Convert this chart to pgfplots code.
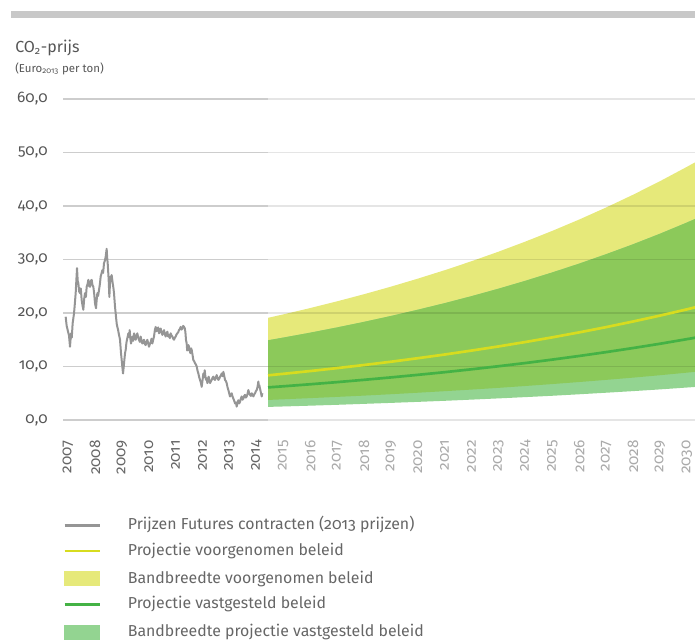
\documentclass[border=0pt]{standalone}
\usepackage{fontspec}
\setmainfont{Fira Sans}[Numbers=OldStyle]
\usepackage{pgfplots}
\pgfplotsset{compat=1.18}
\usepackage{pgfplotstable}
\definecolor{ctxt}{HTML}{555555}
\definecolor{xtd}{HTML}{666666}
\definecolor{xtl}{HTML}{AAAAAA}
\definecolor{legtxt}{HTML}{666666}
\definecolor{cprice}{HTML}{959595}
\definecolor{cyel}{HTML}{E6E97A}
\definecolor{cgrn}{HTML}{93D491}
\definecolor{cover}{HTML}{8CC95A}
\definecolor{cyline}{HTML}{D7DC1F}
\definecolor{cgline}{HTML}{44B245}
\definecolor{cbar}{HTML}{C8C8C8}
\definecolor{gridL}{HTML}{CDCDCD}

\pgfplotstableread{
t        yline  gline
2014.435 8.35   6.10
2015     8.63   6.30
2016     9.15   6.68
2017     9.70   7.08
2018     10.28  7.51
2019     10.89  7.96
2020     11.55  8.44
2021     12.24  8.94
2022     12.98  9.48
2023     13.75  10.05
2024     14.58  10.65
2025     15.45  11.29
2026     16.38  11.97
2027     17.36  12.69
2028     18.41  13.45
2029     19.51  14.25
2030     20.68  15.11
2030.31  21.06  15.38
}\proj

\pgfplotstableread{
t        p
2006.913 19.3
2006.950 17.6
2006.988 16.8
2007.037 15.8
2007.074 13.7
2007.112 16.2
2007.140 15.4
2007.173 18.1
2007.223 19.9
2007.250 21.5
2007.285 23.7
2007.335 28.4
2007.360 26.0
2007.384 25.6
2007.415 24.0
2007.446 23.7
2007.475 24.6
2007.508 22.4
2007.540 21.4
2007.570 20.6
2007.600 22.6
2007.632 23.7
2007.665 23.0
2007.694 24.9
2007.725 25.4
2007.756 26.2
2007.790 25.0
2007.818 24.9
2007.850 26.0
2007.880 26.2
2007.910 25.2
2007.942 24.9
2007.975 23.5
2008.004 21.8
2008.041 20.9
2008.065 22.4
2008.090 23.7
2008.120 23.2
2008.152 24.3
2008.185 25.4
2008.214 26.8
2008.245 27.4
2008.276 28.0
2008.305 27.5
2008.338 29.3
2008.370 29.8
2008.400 30.5
2008.437 32.0
2008.455 30.4
2008.475 29.3
2008.512 26.2
2008.537 23.0
2008.555 25.0
2008.574 26.8
2008.600 26.0
2008.623 27.1
2008.660 25.6
2008.690 24.6
2008.710 23.7
2008.747 21.2
2008.784 19.3
2008.810 18.0
2008.834 17.4
2008.860 16.9
2008.884 16.2
2008.910 15.6
2008.933 15.0
2008.970 12.5
2009.007 10.6
2009.045 8.7
2009.070 9.9
2009.094 11.2
2009.120 12.5
2009.144 13.1
2009.170 14.4
2009.193 15.0
2009.218 15.6
2009.243 16.2
2009.270 15.5
2009.292 16.8
2009.318 15.2
2009.342 14.3
2009.368 15.0
2009.392 15.6
2009.420 14.8
2009.454 16.2
2009.485 15.4
2009.516 15.0
2009.545 15.8
2009.577 16.2
2009.608 15.4
2009.639 15.0
2009.670 14.6
2009.701 15.6
2009.732 14.8
2009.763 14.3
2009.795 14.8
2009.825 15.0
2009.855 14.2
2009.887 14.0
2009.918 14.6
2009.949 15.0
2009.980 14.3
2010.011 13.7
2010.042 14.2
2010.073 14.6
2010.105 15.2
2010.135 14.3
2010.165 15.0
2010.197 15.6
2010.228 16.8
2010.259 17.4
2010.290 16.6
2010.321 16.8
2010.352 17.3
2010.383 16.2
2010.414 16.6
2010.445 17.1
2010.476 16.4
2010.507 15.9
2010.538 16.4
2010.569 16.8
2010.600 16.0
2010.631 15.6
2010.662 16.2
2010.693 16.5
2010.724 15.6
2010.755 15.9
2010.786 15.3
2010.817 16.2
2010.848 15.8
2010.879 15.6
2010.910 15.2
2010.941 15.0
2010.972 15.4
2011.002 15.6
2011.033 16.0
2011.064 16.2
2011.095 16.4
2011.126 16.8
2011.157 17.0
2011.188 17.4
2011.220 16.9
2011.250 17.1
2011.281 17.6
2011.312 17.4
2011.337 17.2
2011.362 16.5
2011.385 15.0
2011.411 14.3
2011.430 13.0
2011.449 13.1
2011.475 14.0
2011.498 13.7
2011.522 13.0
2011.548 12.5
2011.575 13.4
2011.597 13.1
2011.628 12.2
2011.659 11.2
2011.690 11.0
2011.721 10.6
2011.752 10.4
2011.783 10.0
2011.815 9.2
2011.845 8.7
2011.876 8.0
2011.907 7.5
2011.938 7.0
2011.969 6.2
2012.000 7.4
2012.031 8.7
2012.056 8.0
2012.081 9.3
2012.105 8.2
2012.130 7.5
2012.155 7.8
2012.180 6.9
2012.205 7.6
2012.229 8.1
2012.255 7.4
2012.279 6.9
2012.310 7.2
2012.341 7.5
2012.372 7.9
2012.403 8.1
2012.434 7.6
2012.465 7.5
2012.496 8.0
2012.527 8.4
2012.558 7.8
2012.589 7.5
2012.620 7.7
2012.651 8.1
2012.682 8.3
2012.713 8.7
2012.744 8.2
2012.775 9.0
2012.805 8.3
2012.836 7.5
2012.867 7.3
2012.898 6.9
2012.930 6.1
2012.960 5.6
2012.991 5.0
2013.022 4.4
2013.053 4.7
2013.084 5.0
2013.115 4.4
2013.146 4.0
2013.177 3.6
2013.208 3.1
2013.240 3.3
2013.270 2.5
2013.300 3.2
2013.332 3.7
2013.363 3.1
2013.394 3.4
2013.425 4.0
2013.456 4.4
2013.487 3.8
2013.518 4.0
2013.549 4.5
2013.580 4.7
2013.611 4.2
2013.642 4.4
2013.673 4.9
2013.704 5.6
2013.735 5.0
2013.766 4.7
2013.797 4.5
2013.828 5.0
2013.859 4.7
2013.890 4.4
2013.921 4.8
2013.952 5.0
2013.983 5.4
2014.014 5.6
2014.045 6.2
2014.076 7.2
2014.095 6.2
2014.113 6.5
2014.130 6.0
2014.150 5.6
2014.175 5.0
2014.200 4.4
2014.224 5.0
}\price

\begin{document}
\begin{tikzpicture}
\path[use as bounding box] (0,0) rectangle (521.25pt,-479.25pt);
\fill[cbar] (8.25pt,-8.25pt) rectangle (521.25pt,-13.5pt);
\node[anchor=base west, inner sep=0pt, text=ctxt, font=\fontsize{12pt}{14pt}\selectfont] at (11.25pt,-39pt) {CO\textsubscript{2}-prijs};
\node[anchor=base west, inner sep=0pt, text=ctxt, font=\fontsize{8.6pt}{9.5pt}\selectfont] at (11.25pt,-54pt) {(Euro\textsubscript{2013} per ton)};
\begin{axis}[
  at={(47.25pt,-315pt)}, anchor=south west,
  scale only axis, width=474.1pt, height=240.75pt,
  xmin=2006.814, xmax=2030.31, ymin=0, ymax=60,
  clip=false,
  axis line style={draw=none},
  major tick length=0pt, tick style={draw=none},
  /pgf/number format/assume math mode=true,
  ytick={0,10,20,30,40,50,60},
  yticklabels={{0,0},{10,0},{20,0},{30,0},{40,0},{50,0},{60,0}},
  yticklabel style={anchor=east, inner sep=0pt, xshift=-11.25pt, text=ctxt, font=\fontsize{11.5pt}{13pt}\selectfont},
  xtick={2007,2008,2009,2010,2011,2012,2013,2014,2015,2016,2017,2018,2019,2020,2021,2022,2023,2024,2025,2026,2027,2028,2029,2030},
  xticklabels={\textcolor{xtd}{2007},\textcolor{xtd}{2008},\textcolor{xtd}{2009},\textcolor{xtd}{2010},\textcolor{xtd}{2011},\textcolor{xtd}{2012},\textcolor{xtd}{2013},\textcolor{xtd}{2014},
   \textcolor{xtl}{2015},\textcolor{xtl}{2016},\textcolor{xtl}{2017},\textcolor{xtl}{2018},\textcolor{xtl}{2019},\textcolor{xtl}{2020},\textcolor{xtl}{2021},\textcolor{xtl}{2022},\textcolor{xtl}{2023},\textcolor{xtl}{2024},\textcolor{xtl}{2025},\textcolor{xtl}{2026},\textcolor{xtl}{2027},\textcolor{xtl}{2028},\textcolor{xtl}{2029},\textcolor{xtl}{2030}},
  xticklabel style={yshift=-15pt, rotate=90, anchor=east, inner sep=0pt, font=\fontsize{11.5pt}{13pt}\selectfont},
  legend style={at={(axis description cs:0,-0.31)}, anchor=north west, draw=none, fill=none, inner sep=0pt,
    row sep=9.3pt, font=\fontsize{11.9pt}{13pt}\selectfont, text=legtxt,
    nodes={inner sep=0pt, anchor=base west, text height=7.5pt, text depth=2.5pt},
    /tikz/every odd column/.append style={column sep=20pt}},
]
% band voorgenomen beleid (lower edge, then upper edge backwards)
\addplot[fill=cyel, draw=none, forget plot] coordinates {
 (2014.435,3.75)(2015,3.87)(2016,4.09)(2017,4.32)(2018,4.56)(2019,4.82)(2020,5.10)(2021,5.39)(2022,5.69)(2023,6.01)(2024,6.36)(2025,6.72)(2026,7.10)(2027,7.50)(2028,7.92)(2029,8.37)(2030,8.85)(2030.31,9.00)
 (2030.31,48.17)(2030,47.31)(2029,44.63)(2028,42.10)(2027,39.72)(2026,37.47)(2025,35.35)(2024,33.35)(2023,31.46)(2022,29.68)(2021,28.00)(2020,26.42)(2019,24.92)(2018,23.51)(2017,22.18)(2016,20.92)(2015,19.74)(2014.435,19.10)
} -- cycle;
% band vastgesteld beleid
\addplot[fill=cgrn, draw=none, forget plot] coordinates {
 (2014.435,2.45)(2015,2.53)(2016,2.68)(2017,2.84)(2018,3.02)(2019,3.20)(2020,3.39)(2021,3.59)(2022,3.81)(2023,4.04)(2024,4.28)(2025,4.53)(2026,4.81)(2027,5.10)(2028,5.40)(2029,5.72)(2030,6.07)(2030.31,6.18)
 (2030.31,37.58)(2030,36.90)(2029,34.81)(2028,32.84)(2027,30.99)(2026,29.23)(2025,27.58)(2024,26.02)(2023,24.54)(2022,23.15)(2021,21.84)(2020,20.61)(2019,19.44)(2018,18.34)(2017,17.30)(2016,16.32)(2015,15.40)(2014.435,14.90)
} -- cycle;
% overlap of both bands
\addplot[fill=cover, draw=none, forget plot] coordinates {
 (2014.435,3.75)(2015,3.87)(2016,4.09)(2017,4.32)(2018,4.56)(2019,4.82)(2020,5.10)(2021,5.39)(2022,5.69)(2023,6.01)(2024,6.36)(2025,6.72)(2026,7.10)(2027,7.50)(2028,7.92)(2029,8.37)(2030,8.85)(2030.31,9.00)
 (2030.31,37.58)(2030,36.90)(2029,34.81)(2028,32.84)(2027,30.99)(2026,29.23)(2025,27.58)(2024,26.02)(2023,24.54)(2022,23.15)(2021,21.84)(2020,20.61)(2019,19.44)(2018,18.34)(2017,17.30)(2016,16.32)(2015,15.40)(2014.435,14.90)
} -- cycle;
% grid lines
\pgfplotsinvokeforeach{0,10,20,30,40,50,60}{
  \addplot[black, opacity=0.1, line width=0.9pt, forget plot] coordinates {(2014.435,#1) (2030.31,#1)};
  \addplot[gridL, line width=0.9pt, forget plot] coordinates {(2006.814,#1) (2014.435,#1)};
}
% lines
\addplot[cprice, line width=1.5pt, line join=round, forget plot] table[x=t,y=p]{\price};
\addplot[cyline, line width=2pt, forget plot] table[x=t,y=yline]{\proj};
\addplot[cgline, line width=2pt, forget plot] table[x=t,y=gline]{\proj};
% legend
\addlegendimage{legend image code/.code={\draw[cprice,line width=2.2pt] (0pt,3.5pt)--(26.25pt,3.5pt);}}
\addlegendentry{Prijzen Futures contracten (2013 prijzen)}
\addlegendimage{legend image code/.code={\draw[cyline,line width=2pt] (0pt,3.5pt)--(26.25pt,3.5pt);}}
\addlegendentry{Projectie voorgenomen beleid}
\addlegendimage{legend image code/.code={\fill[cyel] (0pt,-1.75pt) rectangle (26.25pt,8.75pt);}}
\addlegendentry{Bandbreedte voorgenomen beleid}
\addlegendimage{legend image code/.code={\draw[cgline,line width=2pt] (0pt,3.5pt)--(26.25pt,3.5pt);}}
\addlegendentry{Projectie vastgesteld beleid}
\addlegendimage{legend image code/.code={\fill[cgrn] (0pt,-1.75pt) rectangle (26.25pt,8.75pt);}}
\addlegendentry{Bandbreedte projectie vastgesteld beleid}
\end{axis}
\end{tikzpicture}
\end{document}
